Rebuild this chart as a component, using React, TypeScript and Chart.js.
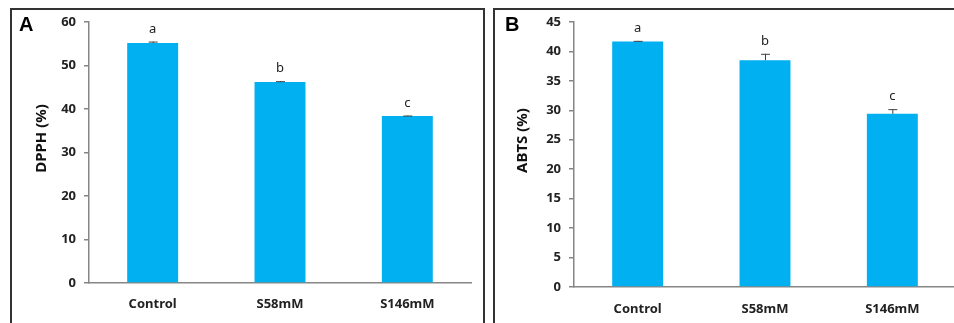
import React, { useEffect, useRef } from "react";
import { Chart, registerables } from "chart.js";

Chart.register(...registerables);

const categories = ["Control", "S58mM", "S146mM"];
const dpphValues = [55.2, 46.2, 38.4];
const dpphErrors = [0.3, 0.2, 0.1];
const dpphLetters = ["a", "b", "c"];
const abtsValues = [41.7, 38.5, 29.4];
const abtsErrors = [0.1, 1.1, 0.8];
const abtsLetters = ["a", "b", "c"];
const dpphTicks = { min: 0, max: 60, step: 10 };
const abtsTicks = { min: 0, max: 45, step: 5 };

const BAR = "#00B0F0";
const AXIS = "#868686";
const FONT = "'Noto Sans', 'Open Sans', Arial, sans-serif";

const errorPlugin = {
  id: "errLetters",
  afterDatasetsDraw(chart: any, _args: any, opts: any) {
    const { ctx } = chart;
    const meta = chart.getDatasetMeta(0);
    const y = chart.scales.y;
    ctx.save();
    meta.data.forEach((bar: any, i: number) => {
      const v = opts.values[i];
      const e = opts.errors[i];
      const yTop = y.getPixelForValue(v + e);
      const yBase = y.getPixelForValue(v);
      const x = bar.x;
      ctx.strokeStyle = "#404040";
      ctx.lineWidth = 1;
      ctx.beginPath();
      ctx.moveTo(x + 0.5, yBase);
      ctx.lineTo(x + 0.5, yTop);
      ctx.moveTo(x - 4, yTop + 0.5);
      ctx.lineTo(x + 5, yTop + 0.5);
      ctx.stroke();
      ctx.fillStyle = "#222";
      ctx.font = "13px " + FONT;
      ctx.textAlign = "center";
      ctx.textBaseline = "alphabetic";
      ctx.fillText(opts.letters[i], x, yTop - 9);
    });
    // y-axis title
    const area = chart.chartArea;
    ctx.translate(opts.titleX, (area.top + area.bottom) / 2 - 14);
    ctx.rotate(-Math.PI / 2);
    ctx.fillStyle = "#111";
    ctx.font = "bold 15px " + FONT;
    ctx.textAlign = "center";
    ctx.textBaseline = "middle";
    ctx.fillText(opts.title, 0, 0);
    ctx.restore();
  },
};

function Panel(props: {
  left: number;
  width: number;
  values: number[];
  errors: number[];
  letters: string[];
  ticks: { min: number; max: number; step: number };
  title: string;
  titleX: number;
  yWidth: number;
  top: number;
  bottom: number;
  right: number;
  labelPad: number;
}) {
  const ref = useRef<HTMLCanvasElement>(null);
  useEffect(() => {
    const chart = new Chart(ref.current as HTMLCanvasElement, {
      type: "bar",
      data: {
        labels: categories,
        datasets: [
          {
            data: props.values,
            backgroundColor: BAR,
            borderWidth: 0,
            barPercentage: 0.4,
            categoryPercentage: 1,
          },
        ],
      },
      options: {
        animation: false,
        responsive: false,
        maintainAspectRatio: false,
        layout: { padding: { left: 0, top: props.top, right: props.right, bottom: 0 } },
        plugins: {
          legend: { display: false },
          tooltip: { enabled: false },
          errLetters: {
            values: props.values,
            errors: props.errors,
            letters: props.letters,
            title: props.title,
            titleX: props.titleX,
          },
        } as any,
        scales: {
          x: {
            grid: { display: false },
            border: { display: true, color: AXIS, width: 1.5 },
            ticks: { color: "#222", padding: props.labelPad, font: { family: FONT, size: 13, weight: "bold" } },
            afterFit: (s: any) => {
              s.height = props.bottom;
            },
          },
          y: {
            min: props.ticks.min,
            max: props.ticks.max,
            grid: { drawOnChartArea: false, drawTicks: true, tickLength: 5, color: AXIS, lineWidth: 1.5 },
            border: { display: true, color: AXIS, width: 1.5 },
            ticks: {
              stepSize: props.ticks.step,
              color: "#222",
              padding: 8,
              font: { family: FONT, size: 13, weight: "bold" },
            },
            afterFit: (s: any) => {
              s.width = props.yWidth;
            },
          },
        },
      },
      plugins: [errorPlugin],
    });
    return () => chart.destroy();
  }, []);
  return (
    <canvas
      ref={ref}
      width={props.width}
      height={323}
      style={{ position: "absolute", left: props.left, top: 0, width: props.width, height: 323 }}
    />
  );
}

export default function App() {
  const frame = (left: number, width: number): React.CSSProperties => ({
    position: "absolute",
    left,
    top: 8,
    width,
    height: 340,
    border: "2px solid #333",
    boxSizing: "border-box",
  });
  const letter = (left: number): React.CSSProperties => ({
    position: "absolute",
    left,
    top: 12,
    fontFamily: "Arial, 'Liberation Sans', sans-serif",
    fontWeight: "bold",
    fontSize: 20,
    color: "#000",
    lineHeight: "24px",
  });
  return (
    <div
      style={{
        position: "absolute",
        left: 0,
        top: 0,
        width: 954,
        height: 323,
        overflow: "hidden",
        background: "#fff",
      }}
    >
      <div style={frame(10, 475)} />
      <div style={frame(493, 480)} />
      <Panel
        left={0}
        width={484}
        values={dpphValues}
        errors={dpphErrors}
        letters={dpphLetters}
        ticks={dpphTicks}
        title="DPPH (%)"
        titleX={42}
        yWidth={89}
        top={22}
        bottom={40}
        right={13}
        labelPad={5}
      />
      <Panel
        left={484}
        width={476}
        values={abtsValues}
        errors={abtsErrors}
        letters={abtsLetters}
        ticks={abtsTicks}
        title="ABTS (%)"
        titleX={39}
        yWidth={90}
        top={22}
        bottom={36}
        right={4}
        labelPad={6}
      />
      <div style={letter(19)}>A</div>
      <div style={letter(505)}>B</div>
    </div>
  );
}
